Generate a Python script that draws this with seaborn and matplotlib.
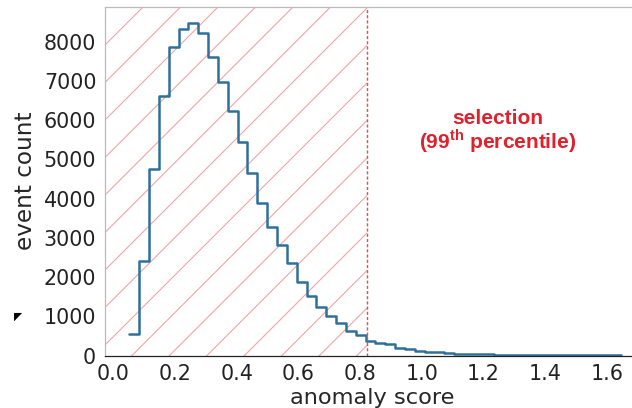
import numpy as np
import pandas as pd
import matplotlib
matplotlib.use("Agg")
import matplotlib.pyplot as plt
import seaborn as sns

### data ###
# 50 equal bins between these two edges
bin_lo = 0.052
bin_hi = 1.647
counts = [548, 2400, 4750, 6620, 7878, 8321, 8490, 8219, 7607, 6985,
          6237, 5454, 4648, 3883, 3270, 2819, 2368, 1867, 1526, 1245,
          1000, 830, 633, 530, 378, 320, 286, 199, 158, 122,
          100, 80, 62, 50, 40, 33, 27, 22, 18, 15,
          12, 10, 12, 8, 6, 5, 4, 3, 2, 2]
cut = 0.821  # 99th percentile
x_ticks = [0.0, 0.2, 0.4, 0.6, 0.8, 1.0, 1.2, 1.4, 1.6]
y_ticks = [0, 1000, 2000, 3000, 4000, 5000, 6000, 7000, 8000]
note = "selection\n(99$^{\\mathbf{th}}$ percentile)"

edges = list(np.linspace(bin_lo, bin_hi, len(counts) + 1))
mids = [(a + b) / 2 for a, b in zip(edges[:-1], edges[1:])]
df = pd.DataFrame({"score": mids, "n": counts})

### style ###
DPI = 225  # hatch spacing follows dpi
sns.set_style("white")
plt.rcParams["font.family"] = ["DejaVu Sans"]
plt.rcParams["hatch.linewidth"] = 0.35
plt.rcParams["mathtext.fontset"] = "custom"
plt.rcParams["mathtext.bf"] = "Liberation Sans:bold"
plt.rcParams["mathtext.rm"] = "Liberation Sans"

fig = plt.figure(figsize=(632 / DPI, 408 / DPI), dpi=DPI)
ax = fig.add_axes([105 / 632, 52.5 / 408, 535 / 632, 349 / 408])

xmin, xmax = -0.027, 1.707
ax.axvspan(xmin, cut, facecolor="none", edgecolor="#f2a4a4",
           hatch="//", linewidth=0, zorder=0)

sns.histplot(data=df, x="score", weights="n", bins=edges, element="step",
             fill=False, color="#2f7099", linewidth=0.8, ax=ax)

ax.axvline(cut, color="#d9534f", linewidth=0.45, linestyle=(0, (2.2, 1.5)))

ax.text(1.247, 5700, note, color="#e0202a", fontsize=6.7, fontweight="bold",
        family="Liberation Sans", ha="center", va="center", linespacing=1.0)

ax.set_xlim(xmin, xmax)
ax.set_ylim(0, 8900)
ax.set_xticks(x_ticks)
ax.set_yticks(y_ticks)
ax.set_xlabel("anomaly score", fontsize=7.2, labelpad=1.2)
ax.set_ylabel("event count", fontsize=7.4, labelpad=2)
ax.tick_params(axis="both", labelsize=6.6, length=1.6, width=0.3,
               pad=1.2, colors="#222222")
ax.tick_params(axis="y", color="#555555")

for side in ["left", "top", "right"]:
    ax.spines[side].set_color("#bbbbbb")
    ax.spines[side].set_linewidth(0.4)
ax.spines["bottom"].set_color("#222222")
ax.spines["bottom"].set_linewidth(0.4)

# small black marker at the left margin
fig.text(18.5 / 632, 1 - 316.5 / 408, "\u25e4", fontsize=3.4, color="black",
         ha="center", va="center")

fig.savefig("out.png", dpi=DPI)
